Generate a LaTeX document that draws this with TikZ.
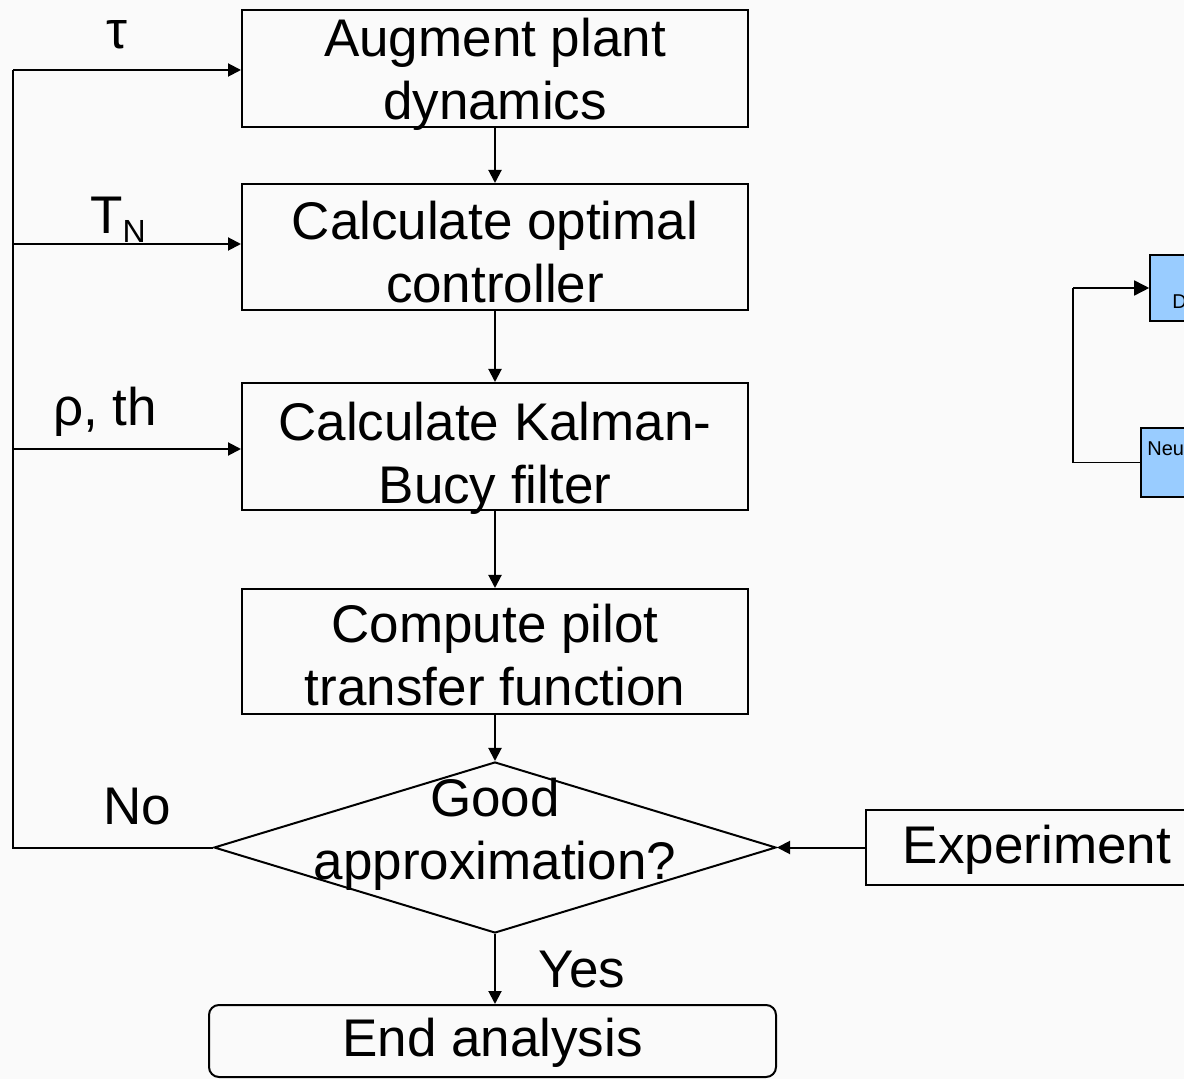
\documentclass[tikz,border=0pt]{standalone}
\usepackage{fontspec}
\setmainfont{Liberation Sans}
\usetikzlibrary{shapes.geometric,arrows.meta}
\definecolor{bgc}{HTML}{FAFAFA}
\definecolor{blueb}{HTML}{99CCFF}
\newcommand\flowfont{\fontsize{26.5}{31.5}\selectfont}
\begin{document}
\begin{tikzpicture}[x=0.5pt,y=-0.5pt,
  box/.style={draw, line width=1pt, minimum width=253pt, inner sep=0pt},
  arr/.style={-{Triangle[length=6.5pt,width=6.5pt]}, line width=1pt},
  lab/.style={font=\flowfont, inner sep=0pt, align=center},
  bluebox/.style={draw, line width=0.8pt, fill=blueb, inner sep=0pt},
  smalltxt/.style={font=\fontsize{10}{11}\selectfont, inner sep=0pt, anchor=west}]
\fill[bgc] (0,0) rectangle (1184,1079);
\clip (0,0) rectangle (1184,1079);
\useasboundingbox (0,0) rectangle (1184,1079);

% main flow boxes
\node[box, minimum height=58.5pt] (A) at (495,68.5) {};
\node[lab] (At) at (495,74) {Augment plant\\dynamics};
\node[box, minimum height=63pt] (B) at (495,247) {};
\node[lab] (Bt) at (495,252) {Calculate optimal\\controller};
\node[box, minimum height=63.5pt] (C) at (495,446.5) {};
\node[lab] (Ct) at (495,458) {Calculate Kalman-\\Bucy filter};
\node[box, minimum height=62.5pt] (D) at (495,651.5) {};
\node[lab] (Dt) at (495,655) {Compute pilot\\transfer function};
\node[draw, line width=1pt, shape=diamond, minimum width=281pt, minimum height=85.5pt, inner sep=0pt] (Q) at (495,847.5) {};
\node[lab] (Qt) at (495,834) {Good\\approximation?};
\node[box, rounded corners=5pt, minimum width=283.5pt, minimum height=36pt] (E) at (492.5,1041) {};
\node[lab] (Et) at (492.5,1043) {End analysis};
\node[box, minimum width=171pt, minimum height=37.5pt] (X) at (1037,847.5) {};
\node[lab] (Xt) at (1037,850) {Experiment};

% vertical arrows
\draw[arr] (A.south) -- (B.north);
\draw[arr] (B.south) -- (C.north);
\draw[arr] (C.south) -- (D.north);
\draw[arr] (D.south) -- (Q.north);
\draw[arr] (Q.south) -- (E.north -| Q.south);
\draw[arr] (X.west) -- (Q.east);

% feedback loop
\coordinate (L0) at (13,847.5);
\coordinate (L1) at (13,70);
\coordinate (L2) at (13,244);
\coordinate (L3) at (13,449);
\draw[line width=1pt] (Q.west) -- (L0) -- (L1);
\draw[arr] (L1) -- (A.west |- L1);
\draw[arr] (L2) -- (B.west |- L2);
\draw[arr] (L3) -- (C.west |- L3);

% labels
\node[lab] (tau) at (117,35) {τ};
\node[lab] (tn) at (118,220) {T\raisebox{-4.5pt}{\fontsize{16}{16}\selectfont N}};
\node[lab] (rho) at (105,412) {ρ, th};
\node[lab] (no) at (137,807) {No};
\node[lab] (yes) at (582,970) {Yes};

% partial blue boxes on the right
\node[bluebox, minimum width=40pt, minimum height=33pt] (b1) at (1190,288) {};
\node[smalltxt] (b1t) at (1172,302) {D};
\node[bluebox, minimum width=40pt, minimum height=34.5pt] (b2) at (1181,462.5) {};
\node[smalltxt] (b2t) at (1147,449) {Neu};
\coordinate (R1) at (1073,462.5);
\coordinate (R2) at (1073,288);
\draw[line width=0.8pt] (b2.west) -- (R1) -- (R2);
\draw[-{Triangle[length=7.5pt,width=7.5pt]}, line width=0.8pt] (R2) -- (b1.west);
\end{tikzpicture}
\end{document}
